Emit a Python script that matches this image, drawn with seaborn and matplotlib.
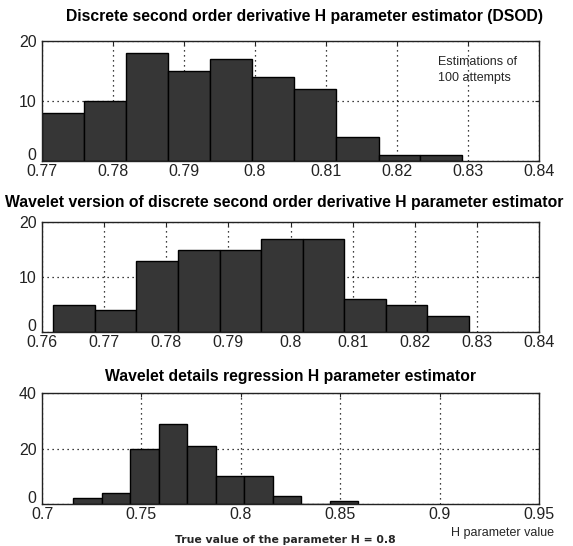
import numpy as np
import matplotlib
matplotlib.use("Agg")
import matplotlib.pyplot as plt
import matplotlib.transforms as mtransforms
import seaborn as sns

# Histogram data (bin edges and counts per estimator)
dsod_edges = [0.7700, 0.7759, 0.7818, 0.7878, 0.7937, 0.7996, 0.8055, 0.8114, 0.8174, 0.8233, 0.8292]
dsod_counts = [8, 10, 18, 15, 17, 14, 12, 4, 1, 1]

wav_edges = [0.7618, 0.7685, 0.7752, 0.7819, 0.7886, 0.7953, 0.8020, 0.8086, 0.8153, 0.8220, 0.8287]
wav_counts = [5, 4, 13, 15, 15, 17, 17, 6, 5, 3]

reg_edges = [0.7156, 0.7300, 0.7443, 0.7587, 0.7730, 0.7874, 0.8017, 0.8161, 0.8304, 0.8448, 0.8591]
reg_counts = [2, 4, 20, 29, 21, 10, 10, 3, 0, 1]

titles = ['Discrete second order derivative H parameter estimator (DSOD)',
          'Wavelet version of discrete second order derivative H parameter estimator',
          'Wavelet details regression H parameter estimator']

xticks_1 = [0.77, 0.78, 0.79, 0.80, 0.81, 0.82, 0.83, 0.84]
xlabels_1 = ['0.77', '0.78', '0.79', '0.8', '0.81', '0.82', '0.83', '0.84']
xticks_2 = [0.76, 0.77, 0.78, 0.79, 0.80, 0.81, 0.82, 0.83, 0.84]
xlabels_2 = ['0.76', '0.77', '0.78', '0.79', '0.8', '0.81', '0.82', '0.83', '0.84']
xticks_3 = [0.70, 0.75, 0.80, 0.85, 0.90, 0.95]
xlabels_3 = ['0.7', '0.75', '0.8', '0.85', '0.9', '0.95']

yticks_1 = [0, 10, 20]
yticks_3 = [0, 20, 40]

sns.set_style('white')
plt.rcParams['font.family'] = ['Liberation Sans', 'DejaVu Sans']

fig = plt.figure(figsize=(5.73, 5.46), dpi=100)

# axes boxes in figure fractions (left, bottom, width, height)
boxes = [[0.0733, 0.7051, 0.8674, 0.2198],
         [0.0733, 0.3919, 0.8674, 0.2015],
         [0.0733, 0.0769, 0.8674, 0.2033]]

panels = [(dsod_edges, dsod_counts, xticks_1, xlabels_1, yticks_1),
          (wav_edges, wav_counts, xticks_2, xlabels_2, yticks_1),
          (reg_edges, reg_counts, xticks_3, xlabels_3, yticks_3)]

# title centres in pixels (x, y)
title_pos = [(304, 16), (284, 203), (290, 376)]

for i, (edges, counts, xt, xl, yt) in enumerate(panels):
    ax = fig.add_axes(boxes[i])
    centers = [(edges[k] + edges[k + 1]) / 2 for k in range(len(counts))]
    sns.histplot(x=centers, weights=counts, bins=edges, ax=ax,
                 color='#363636', edgecolor='black', linewidth=1.0, alpha=1)
    ax.set_xlim(xt[0], xt[-1])
    ax.set_ylim(yt[0], yt[-1])
    ax.set_xticks(xt)
    ax.set_xticklabels(xl)
    ax.set_yticks(yt)
    ax.set_ylabel('')
    ax.set_xlabel('')
    ax.set_axisbelow(True)
    ax.grid(True, color='black', linestyle=(0, (1, 3)), linewidth=0.9)
    ax.tick_params(direction='in', top=True, right=True, length=3, width=0.8,
                   labelsize=11.5, colors='#222222')
    ax.tick_params(axis='x', pad=2)
    ax.tick_params(axis='y', pad=4)
    for s in ax.spines.values():
        s.set_color('#222222')
        s.set_linewidth(1.0)
    # lift the "0" label a little so it sits above the x tick labels
    lab0 = ax.get_yticklabels()[0]
    lab0.set_transform(lab0.get_transform() +
                       mtransforms.ScaledTranslation(0, 5 / 72, fig.dpi_scale_trans))
    fig.text(title_pos[i][0] / 573, 1 - title_pos[i][1] / 546, titles[i],
             ha='center', va='center', fontsize=11.3, fontweight='bold', color='black')

fig.text(438 / 573, 1 - 62 / 546, 'Estimations of', ha='left', va='center', fontsize=9)
fig.text(438 / 573, 1 - 78 / 546, '100 attempts', ha='left', va='center', fontsize=9)

fig.text(285 / 573, 1 - 540 / 546, 'True value of the parameter H = 0.8',
         ha='center', va='center', fontsize=7.8, fontweight='bold',
         family=['DejaVu Sans'])
fig.text(503 / 573, 1 - 533 / 546, 'H parameter value', ha='center', va='center', fontsize=9)

fig.savefig('out.png', dpi=100, facecolor='white')
